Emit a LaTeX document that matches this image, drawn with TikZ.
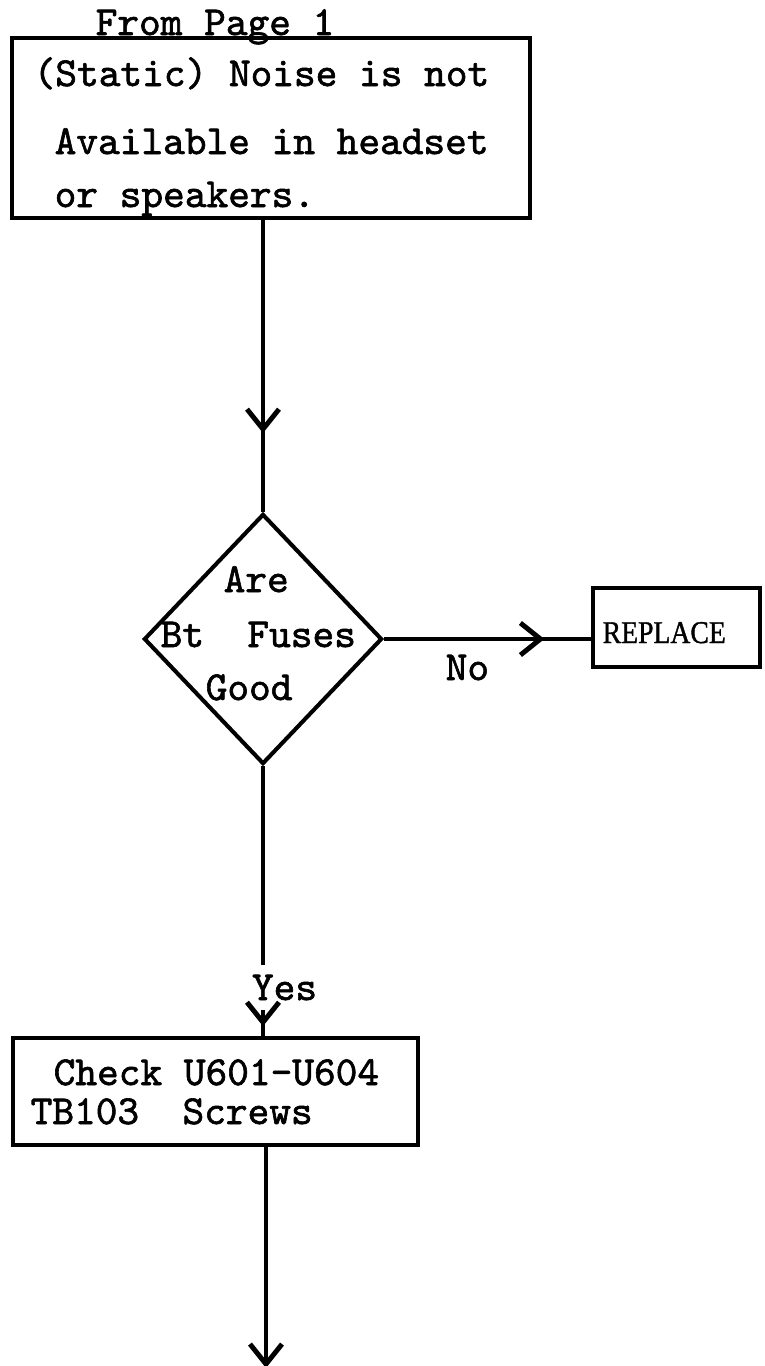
\documentclass[tikz,border=0pt]{standalone}
\usepackage{fontspec}
\usepackage{graphicx}
\usetikzlibrary{shapes.geometric,arrows.meta,decorations.markings}
\newfontfamily\typefont{lmmono10-regular.otf}[FakeBold=1.5]
\newfontfamily\capsfont{Liberation Serif}[FakeBold=1.2]

\tikzset{
    flowline/.style={line width=1.15pt},
    flowbox/.style={draw,line width=1.15pt,inner sep=0pt},
    flowtext/.style={inner sep=0pt,anchor=base west,font=\typefont\fontsize{11.75}{14}\selectfont},
    capstext/.style={inner sep=0pt,anchor=base west,font=\capsfont\fontsize{9}{10}\selectfont},
    midarrow/.style={postaction={decorate},
        decoration={markings,mark=at position #1 with {\arrow{>}}}},
}

\begin{document}
\begin{tikzpicture}[x=0.01cm,y=-0.01cm,>={Straight Barb[length=0.2cm,width=0.32cm,line width=1.4pt]}]
        \useasboundingbox (0,0) rectangle (765,1366);

        % start box
        \node[flowtext] (frompage) at (95,35) {From Page 1};
        \node[flowbox,minimum width=5.18cm,minimum height=1.80cm] (noise) at (271,128) {};
        \node[flowtext] (static) at (33,86) {(Static) Noise is not};
        \node[flowtext] (avail) at (54,154) {Available in headset};
        \node[flowtext] (speakers) at (54,207) {or speakers.};

        % fuse check
        \node[draw,diamond,line width=1.15pt,inner sep=0pt,minimum width=2.38cm,minimum height=2.50cm] (fuses) at (263,639) {};
        \node[flowtext] (are) at (223,592) {Are};
        \node[flowtext] (btfuses) at (160,647) {Bt\ \ Fuses};
        \node[flowtext] (good) at (205,700) {Good};

        \node[flowbox,minimum width=1.67cm,minimum height=0.79cm] (replace) at (676.5,627.5) {};
        \node[capstext] (replacetext) at (602,643) {\scalebox{0.875}[1]{REPLACE}};
        \node[flowtext] (no) at (445,680) {No};

        % screws
        \node[flowtext,outer sep=0.1cm] (yes) at (242,1000) {Yes};
        \node[flowbox,minimum width=4.05cm,minimum height=1.07cm] (check) at (215.5,1091.5) {};
        \node[flowtext] (checku) at (53,1085) {Check U601-U604};
        \node[flowtext] (screws) at (30,1124) {TB103\ \ Screws};
        \coordinate (pageend) at (266,1368);

        \draw[flowline,midarrow=0.73] (fuses.north |- noise.south) -- (fuses.north);
        \draw[flowline,midarrow=0.775] (fuses.east) -- (fuses.east -| replace.west);
        \draw[flowline] (fuses.south) -- (fuses.south |- yes.north);
        \draw[flowline,midarrow=0.62] (fuses.south |- yes.south) -- (fuses.south |- check.north);
        \draw[flowline,->] (pageend |- check.south) -- (pageend);
    \end{tikzpicture}
\end{document}
